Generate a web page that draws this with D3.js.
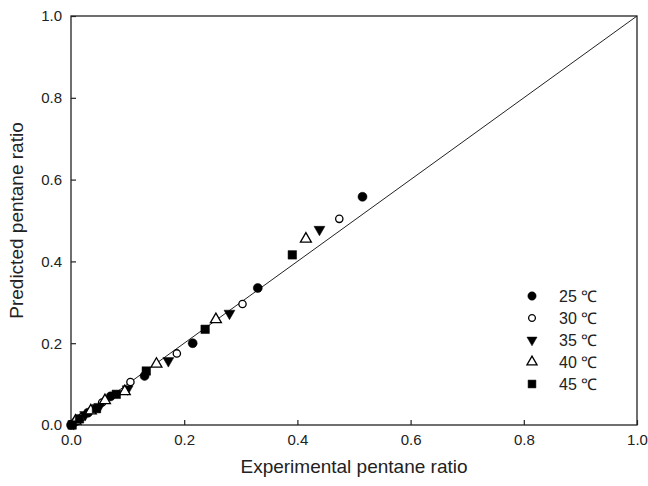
<!DOCTYPE html>
<html>
<head>
<meta charset="utf-8">
<script src="https://cdn.jsdelivr.net/npm/d3@7"></script>
<style>
  body { margin: 0; background: #fff; }
  text { font-family: Arial, "Liberation Sans", sans-serif; fill: #222; }
</style>
</head>
<body>
<svg id="svg" width="648" height="486"></svg>
<script>
let svg = d3.select("#svg");

/* Data: [experimental, predicted] */
let temps = ["25 ℃", "30 ℃", "35 ℃", "40 ℃", "45 ℃"];
let s25 = [[0, 0], [0.01, 0.01], [0.03, 0.03], [0.07, 0.07], [0.13, 0.12], [0.215, 0.2], [0.33, 0.335], [0.515, 0.558]];
let s30 = [[0.005, 0.005], [0.02, 0.02], [0.055, 0.055], [0.105, 0.105], [0.187, 0.175], [0.303, 0.296], [0.474, 0.504]];
let s35 = [[0.005, 0.003], [0.025, 0.025], [0.05, 0.045], [0.1, 0.088], [0.172, 0.157], [0.28, 0.273], [0.439, 0.478]];
let s40 = [[0.008, 0.01], [0.035, 0.035], [0.06, 0.06], [0.095, 0.082], [0.151, 0.149], [0.256, 0.258], [0.415, 0.455]];
let s45 = [[0.002, 0], [0.015, 0.015], [0.045, 0.04], [0.08, 0.075], [0.133, 0.132], [0.237, 0.234], [0.391, 0.416]];
let ticks = [0, 0.2, 0.4, 0.6, 0.8, 1.0];

let series = [s25, s30, s35, s40, s45];
let shapes = [d3.symbolCircle, d3.symbolCircle, d3.symbolTriangle, d3.symbolTriangle, d3.symbolSquare];
let filled = [true, false, true, false, true];
let flip = [false, false, true, false, false];
let sizes = [64, 42, 52, 52, 72];

let mLeft = 71, mRight = 637, mTop = 16, mBottom = 425;
let x = d3.scaleLinear().domain([0, 1]).range([mLeft, mRight]);
let y = d3.scaleLinear().domain([0, 1]).range([mBottom, mTop]);

/* Frame */
svg.append("rect")
  .attr("x", mLeft).attr("y", mTop)
  .attr("width", mRight - mLeft).attr("height", mBottom - mTop)
  .attr("fill", "none").attr("stroke", "#222").attr("stroke-width", 1.3);

/* Axes */
let xAxis = svg.append("g")
  .attr("transform", `translate(0,${mBottom})`)
  .call(d3.axisBottom(x).tickValues(ticks).tickFormat(d3.format(".1f")).tickSizeInner(-5).tickSizeOuter(0).tickPadding(9));
let yAxis = svg.append("g")
  .attr("transform", `translate(${mLeft},0)`)
  .call(d3.axisLeft(y).tickValues(ticks).tickFormat(d3.format(".1f")).tickSizeInner(-5).tickSizeOuter(0).tickPadding(9));
[xAxis, yAxis].forEach(a => {
  a.select(".domain").remove();
  a.selectAll("line").attr("stroke", "#222").attr("stroke-width", 1.2);
  a.selectAll("text").attr("font-size", 15).attr("fill", "#222");
});

/* 1:1 line */
svg.append("line")
  .attr("x1", x(0)).attr("y1", y(0))
  .attr("x2", x(1)).attr("y2", y(1))
  .attr("stroke", "#222").attr("stroke-width", 1);

/* Points */
series.forEach((data, i) => {
  svg.append("g").selectAll("path")
    .data(data)
    .join("path")
    .attr("d", d3.symbol().type(shapes[i]).size(sizes[i]))
    .attr("transform", d => `translate(${x(d[0])},${y(d[1])})` + (flip[i] ? " rotate(180)" : ""))
    .attr("fill", filled[i] ? "#000" : "#fff")
    .attr("stroke", "#000")
    .attr("stroke-width", filled[i] ? 0.5 : 1.3);
});

/* Legend */
temps.forEach((t, i) => {
  let ly = 296 + i * 22;
  svg.append("path")
    .attr("d", d3.symbol().type(shapes[i]).size(sizes[i] * 0.85))
    .attr("transform", `translate(532,${ly})` + (flip[i] ? " rotate(180)" : ""))
    .attr("fill", filled[i] ? "#000" : "#fff")
    .attr("stroke", "#000")
    .attr("stroke-width", filled[i] ? 0.5 : 1.3);
  svg.append("text")
    .attr("x", 559).attr("y", ly + 6)
    .attr("font-size", 16)
    .text(t);
});

/* Axis titles */
svg.append("text")
  .attr("x", (mLeft + mRight) / 2).attr("y", 473)
  .attr("text-anchor", "middle").attr("font-size", 19)
  .text("Experimental pentane ratio");
svg.append("text")
  .attr("transform", `translate(23,${(mTop + mBottom) / 2}) rotate(-90)`)
  .attr("text-anchor", "middle").attr("font-size", 19)
  .text("Predicted pentane ratio");
</script>
</body>
</html>
